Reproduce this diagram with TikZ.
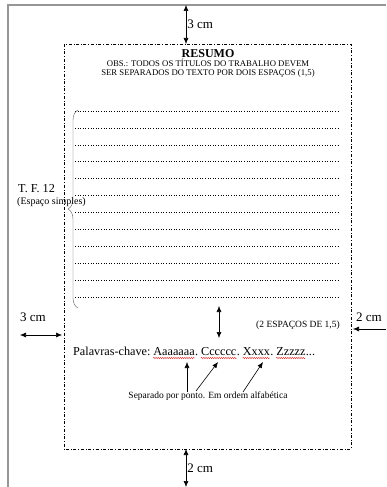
\documentclass[tikz,border=0pt]{standalone}
\usepackage{fontspec}
\setmainfont{Liberation Serif}
\usetikzlibrary{arrows.meta, positioning, decorations.pathreplacing, decorations.pathmorphing}
\definecolor{pagegray}{RGB}{150,150,150}
\definecolor{spellred}{RGB}{215,40,40}

\begin{document}
\begin{tikzpicture}[x=1pt, y=-1pt,
    marg/.style={font=\fontsize{13}{15}\selectfont, inner sep=1pt},
    note/.style={font=\fontsize{9.5}{11}\selectfont, inner sep=0pt},
    word/.style={font=\fontsize{12.2}{14}\selectfont, inner sep=0pt},
    dim/.style={{Latex[length=6pt,width=5pt]}-{Latex[length=6pt,width=5pt]}, semithick},
    ptr/.style={-{Latex[length=6pt,width=5pt]}, semithick},
    wavy/.style={spellred, line width=0.4pt, decorate,
                 decoration={snake, amplitude=0.7pt, segment length=2.2pt}}]
    \useasboundingbox (0,0) rectangle (386,487);

    % Page edges
    \draw[pagegray, line width=1.8pt] (8,487) -- (8,5) -- (386,5);

    % Text area
    \draw[dash dot] (64,44) rectangle (351,449);

    % Margins
    \coordinate (pagetop) at (186,5);
    \coordinate (areatop) at (186,44);
    \draw[dim] (pagetop) -- (areatop) node[marg, midway, right] (mtop) {3 cm};
    \coordinate (areabot) at (186,449);
    \coordinate (pagebot) at (186,487);
    \draw[dim] (areabot) -- (pagebot) node[marg, midway, right] (mbot) {2 cm};
    \coordinate (pageleft) at (20,335);
    \coordinate (arealeft) at (62,335);
    \draw[dim] (pageleft) -- (arealeft);
    \node[marg] (mleft) at (33,317) {3 cm};
    \coordinate (pageright) at (386,329);
    \coordinate (arearight) at (353,329);
    \draw[ptr] (pageright) -- (arearight);
    \node[marg, anchor=west] (mright) at (355,317) {2 cm};

    % Title
    \node[font=\fontsize{12}{13}\selectfont\bfseries, inner sep=0pt] (title) at (208,54) {RESUMO};
    \node[font=\fontsize{8.7}{9}\selectfont, inner sep=0pt, align=center] (obs) at (208,68.5)
      {OBS.: TODOS OS TÍTULOS DO TRABALHO DEVEM\\SER SEPARADOS DO TEXTO POR DOIS ESPAÇOS (1,5)};

    % Lines of text
    \foreach \i in {0,...,11}
      \draw[dotted, line width=0.6pt] (75,111+16.9*\i) -- (338,111+16.9*\i);
    \draw[black!65, decorate, decoration={brace, amplitude=10pt}] (78,308) -- (78,110);
    \node[word, anchor=west] (tf) at (18,189) {T. F. 12};
    \node[font=\fontsize{10}{11}\selectfont, inner sep=0pt, anchor=west] (simples) at (17,202) {(Espaço simples)};

    % Spacing before keywords
    \coordinate (gaptop) at (219,306);
    \coordinate (gapbot) at (219,338);
    \draw[dim] (gaptop) -- (gapbot);
    \node[note] (espacos) at (298,325) {(2 ESPAÇOS DE 1,5)};

    % Keywords
    \node[word, anchor=base west] (kw) at (73,355) {Palavras-chave:};
    \node[word, base right=2.6pt of kw] (wa) {Aaaaaaa};
    \node[word, base right=0pt of wa] (pa) {.};
    \node[word, base right=2.6pt of pa] (wc) {Cccccc};
    \node[word, base right=0pt of wc] (pc) {.};
    \node[word, base right=2.6pt of pc] (wx) {Xxxx};
    \node[word, base right=0pt of wx] (px) {.};
    \node[word, base right=2.6pt of px] (wz) {Zzzzz};
    \node[word, base right=0pt of wz] (pz) {...};
    \foreach \w in {wa,wc,wx,wz}
      \draw[wavy] ([yshift=-3pt]\w.base west) -- ([yshift=-3pt]\w.base east);

    % Note on keywords
    \node[note] (sep) at (208,396) {Separado por ponto. Em ordem alfabética};
    \coordinate (tailA) at (187,392);
    \coordinate (tipA) at (187,362);
    \coordinate (tailC) at (196,391);
    \coordinate (tipC) at (218,362);
    \coordinate (tailX) at (243,392);
    \coordinate (tipX) at (263,362);
    \draw[ptr] (tailA) -- (tipA);
    \draw[ptr] (tailC) -- (tipC);
    \draw[ptr] (tailX) -- (tipX);
\end{tikzpicture}
\end{document}
